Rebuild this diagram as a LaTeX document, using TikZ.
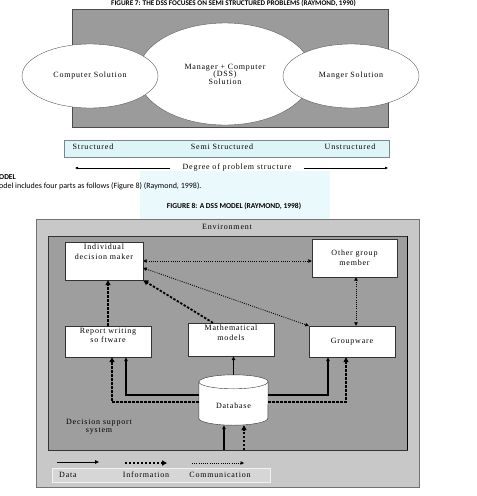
\documentclass[tikz,border=0pt]{standalone}
\usepackage{fontspec}
\setmainfont{Liberation Serif}
\newfontfamily\figfont[LetterSpace=10]{Liberation Serif}
\newfontfamily\pagefont{Carlito}
\usetikzlibrary{arrows.meta,positioning,shapes.geometric,calc}
\definecolor{panelgray}{RGB}{155,155,155}
\definecolor{envgray}{RGB}{200,200,200}
\definecolor{dssgray}{RGB}{158,158,158}
\definecolor{legendgray}{RGB}{214,214,214}
\definecolor{stripcyan}{RGB}{222,245,248}
\definecolor{washcyan}{RGB}{234,249,252}

\begin{document}
\begin{tikzpicture}[
  x=1pt, y=-1pt,
  font=\figfont\fontsize{8}{9.5}\selectfont,
  sol/.style={ellipse, draw=black!65, fill=white, align=center, inner sep=0pt},
  box/.style={draw=black!80, fill=white, align=center, inner sep=1pt},
  boxtxt/.style={anchor=north, align=center, inner sep=0pt, yshift=-2pt},
  pagetxt/.style={font=\pagefont\fontsize{8}{9}\selectfont, inner sep=0pt},
  pagehead/.style={font=\pagefont\bfseries\fontsize{7.5}{8}\selectfont, inner sep=0pt},
  data/.style={line width=1.1pt, -{Triangle[length=4pt,width=3.5pt]}},
  info/.style={line width=1.8pt, dash pattern=on 2.4pt off 1.6pt, -{Triangle[length=5pt,width=5pt]}},
  comm/.style={line width=0.9pt, dash pattern=on 0.9pt off 1.3pt, -{Triangle[length=3.5pt,width=3.5pt]}},
  both/.style={{Triangle[length=3.5pt,width=3.5pt]}-{Triangle[length=3.5pt,width=3.5pt]}},
  scaleline/.style={line width=0.6pt, -{Triangle[length=3pt,width=2.5pt]}},
  dbarc/.style={x radius=34.5pt, y radius=7pt},
  ]
  \useasboundingbox (0,0) rectangle (477,496);
  \clip (0,0) rectangle (477,496);
  \fill[white] (0,0) rectangle (477,496);
  \fill[washcyan] (140,171) rectangle (330,222);

  \node[pagehead, font=\pagefont\bfseries\fontsize{7.2}{8}\selectfont, anchor=base] (fig7) at (233.5,5.5) {FIGURE 7: THE DSS FOCUSES ON SEMI STRUCTURED PROBLEMS (RAYMOND, 1990)};
  \node[draw=black!70, fill=panelgray, minimum width=316pt, minimum height=118pt, inner sep=0pt] (panel) at (230,68) {};
  \node[sol, minimum width=174pt, minimum height=102pt, font=\figfont\fontsize{8}{7.5}\selectfont] (mix) at (225,74) {Manager + Computer\\(DSS)\\Solution};
  \node[sol, minimum width=136pt, minimum height=64pt] (comp) at (90,76) {Computer Solution};
  \node[sol, minimum width=136pt, minimum height=64pt] (mang) at (351,76) {Manger Solution};

  \node[draw=black!45!cyan!40!gray, fill=stripcyan, minimum width=325pt, minimum height=17pt, inner sep=0pt] (strip) at (226.5,148.5) {};
  \node (st) at (93,147) {Structured};
  \node (semi) at (222,147) {Semi Structured};
  \node (unst) at (350,147) {Unstructured};

  \node[inner xsep=12pt, inner ysep=0pt] (deg) at (237,168) {Degree of problem structure};
  \coordinate (degl) at (75,169);
  \coordinate (degr) at (388,169);
  \draw[scaleline] (deg.west) -- (deg.west -| degl);
  \draw[scaleline] (deg.east) -- (deg.east -| degr);

  \node[pagehead, anchor=west] (sec) at (-1,177) {ODEL};
  \node[pagetxt, anchor=west] (par) at (-1,186) {odel includes four parts as follows (Figure 8) (Raymond, 1998).};
  \node[pagehead] (fig8) at (234,206) {FIGURE 8: A DSS MODEL (RAYMOND, 1998)};

  \node[draw=black!55, fill=envgray, minimum width=383pt, minimum height=268pt, inner sep=0pt] (env) at (227.5,353) {};
  \node (envt) at (227,227) {Environment};
  \node[draw=black!80, fill=dssgray, minimum width=359pt, minimum height=214pt, inner sep=0pt] (dss) at (227.5,343) {};
  \draw[line width=1.2pt] (dss.north east) -- (dss.south east);
  \node[align=center, font=\figfont\fontsize{8}{8.5}\selectfont] (dsst) at (99,426.5) {Decision support\\system};

  \node[box, minimum width=78pt, minimum height=38pt, label={[boxtxt]north:Individual\\decision maker}] (idm) at (104,261) {};
  \node[box, minimum width=85pt, minimum height=38pt] (ogm) at (354.5,258) {Other group\\member};
  \node[box, minimum width=86pt, minimum height=31pt, label={[boxtxt]north:Report writing\\so ftware}] (rws) at (108,341.5) {};
  \node[box, minimum width=86pt, minimum height=33pt, label={[boxtxt]north:Mathematical\\models}] (mm) at (231,339.5) {};
  \node[box, minimum width=86pt, minimum height=31pt] (gw) at (352,341.5) {Groupware};
  \path node[minimum width=69pt, minimum height=50pt, inner sep=0pt] (db) at (233.5,400) {};
  \draw[draw=black!80, fill=white] ([yshift=-7pt]db.north west) -- ([yshift=7pt]db.south west)
    arc[start angle=180, end angle=360, dbarc] -- ([yshift=-7pt]db.north east)
    arc[start angle=0, end angle=180, dbarc] -- cycle;
  \draw[draw=black!80] ([yshift=-7pt]db.north west) arc[start angle=180, end angle=360, dbarc];
  \node (dbt) at ([yshift=-6pt]db.center) {Database};

  \draw[comm, both] (idm.east) -- (idm.east -| ogm.west);
  \draw[comm, both] ([yshift=-7pt]idm.east) -- (gw.north west);
  \draw[comm, both] ([xshift=4pt]gw.north) -- ([xshift=4pt]gw.north |- ogm.south);
  \draw[info] (rws.north) -- (rws.north |- idm.south);
  \draw[info] ([xshift=-18pt]mm.north) -- (idm.south east);
  \draw[data] (db.north) -- (db.north |- mm.south);
  \draw[data] ([yshift=5pt]db.west) -| ([xshift=18pt]rws.south);
  \draw[info] ([yshift=-2pt]db.west) -| ([xshift=4pt]rws.south);
  \draw[data] ([yshift=5pt]db.east) -| ([xshift=-24pt]gw.south);
  \draw[info] ([yshift=-2pt]db.east) -| ([xshift=-6pt]gw.south);
  \draw[data] ([xshift=-9.5pt]db.south |- dss.south) -- ([xshift=-9.5pt]db.south);
  \draw[info] ([xshift=10.5pt]db.south |- dss.south) -- ([xshift=10.5pt]db.south);

  \node[draw=white!90!gray, fill=legendgray, minimum width=218pt, minimum height=14pt, inner sep=0pt] (legend) at (161,475) {};
  \node (ldata) at (68,475) {Data};
  \node (linfo) at (146,475) {Information};
  \node (lcomm) at (220,475) {Communication};
  \coordinate (da) at (57,462);
  \coordinate (db2) at (99,462);
  \coordinate (ia) at (125,463);
  \coordinate (ib) at (167,463);
  \coordinate (ca) at (192,463);
  \coordinate (cb) at (244,463);
  \draw[data, line width=0.9pt] (da) -- (db2);
  \draw[info, line width=1.3pt, dash pattern=on 2pt off 2pt] (ia) -- (ib);
  \draw[comm, line width=0.7pt] (ca) -- (cb);
\end{tikzpicture}
\end{document}
